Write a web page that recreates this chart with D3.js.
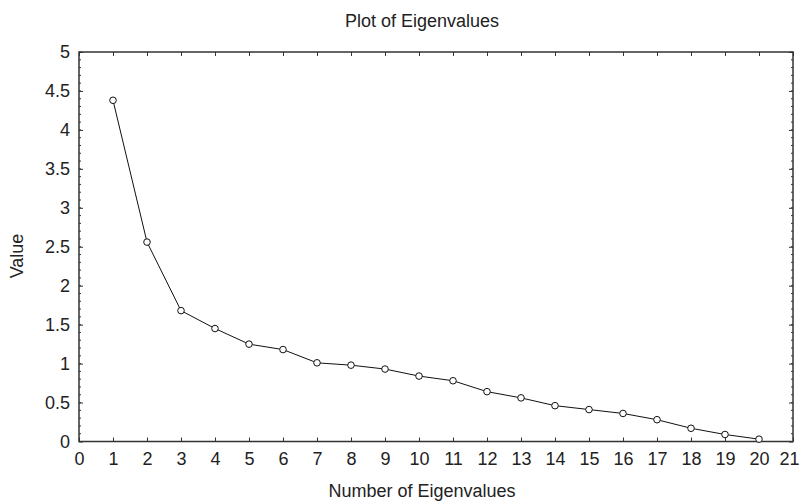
<!DOCTYPE html>
<html>
<head>
<meta charset="utf-8">
<script src="https://cdn.jsdelivr.net/npm/d3@7"></script>
<style>
  body { margin: 0; background: #fff; }
  text { font-family: "Liberation Sans", Arial, sans-serif; fill: #222; }
  .tick text { font-family: "Liberation Sans Narrow", "Liberation Sans", Arial, sans-serif; }
</style>
</head>
<body>
<div id="chart"></div>
<script>
// eigenvalues
var eigenNumber = [1, 2, 3, 4, 5, 6, 7, 8, 9, 10, 11, 12, 13, 14, 15, 16, 17, 18, 19, 20];
var eigenValue = [4.38, 2.56, 1.68, 1.45, 1.25, 1.18, 1.01, 0.98, 0.93, 0.84, 0.78, 0.64, 0.56, 0.46, 0.41, 0.36, 0.28, 0.17, 0.09, 0.03];
var xTicks = d3.range(0, 22);
var yTicks = [0, 0.5, 1, 1.5, 2, 2.5, 3, 3.5, 4, 4.5, 5];
var yMinor = d3.range(0, 51).map(d => d / 10);

var width = 801, height = 501;
var margin = { top: 52, right: 8, bottom: 60, left: 79 };

var svg = d3.select("#chart")
    .append("svg")
    .attr("width", width)
    .attr("height", height);

var x = d3.scaleLinear().domain([0, 21]).range([margin.left, width - margin.right]);
var y = d3.scaleLinear().domain([0, 5]).range([height - margin.bottom + 0.5, margin.top]);

var axisColor = "#333";

// minor ticks left and right
svg.selectAll(".minor-l")
    .data(yMinor)
    .join("line")
    .attr("x1", x(0)).attr("x2", x(0) + 2)
    .attr("y1", d => y(d)).attr("y2", d => y(d))
    .attr("stroke", axisColor);
svg.selectAll(".minor-r")
    .data(yMinor)
    .join("line")
    .attr("x1", x(21)).attr("x2", x(21) - 2)
    .attr("y1", d => y(d)).attr("y2", d => y(d))
    .attr("stroke", axisColor);

// y axis with tick labels
svg.append("g")
    .attr("transform", "translate(" + x(0) + ",0)")
    .call(d3.axisLeft(y).tickValues(yTicks).tickSize(-4).tickPadding(9).tickFormat(d3.format("~g")))
    .call(g => g.select(".domain").remove())
    .call(g => g.selectAll("line").attr("stroke", axisColor))
    .call(g => g.selectAll("text").attr("font-size", 18).attr("font-family", null));

svg.append("g")
    .attr("transform", "translate(" + x(21) + ",0)")
    .call(d3.axisRight(y).tickValues(yTicks).tickSize(-4).tickFormat(""))
    .call(g => g.select(".domain").remove())
    .call(g => g.selectAll("line").attr("stroke", axisColor));

// x axis bottom and top
svg.append("g")
    .attr("transform", "translate(0," + y(0) + ")")
    .call(d3.axisBottom(x).tickValues(xTicks).tickSize(-4).tickPadding(11).tickFormat(d3.format("d")))
    .call(g => g.select(".domain").remove())
    .call(g => g.selectAll("line").attr("stroke", axisColor))
    .call(g => g.selectAll("text").attr("font-size", 18).attr("font-family", null)
        .filter(d => d === 21).attr("dx", -4));

svg.append("g")
    .attr("transform", "translate(0," + y(5) + ")")
    .call(d3.axisTop(x).tickValues(xTicks).tickSize(-4).tickFormat(""))
    .call(g => g.select(".domain").remove())
    .call(g => g.selectAll("line").attr("stroke", axisColor));

// frame
svg.append("rect")
    .attr("x", x(0))
    .attr("y", y(5))
    .attr("width", x(21) - x(0))
    .attr("height", y(0) - y(5))
    .attr("fill", "none")
    .attr("stroke", axisColor)
    .attr("stroke-width", 1.5);

// line
var line = d3.line()
    .x((d, i) => x(eigenNumber[i]))
    .y(d => y(d));

svg.append("path")
    .datum(eigenValue)
    .attr("d", line)
    .attr("fill", "none")
    .attr("stroke", "#111")
    .attr("stroke-width", 1);

svg.selectAll(".pt")
    .data(eigenValue)
    .join("circle")
    .attr("class", "pt")
    .attr("cx", (d, i) => x(eigenNumber[i]))
    .attr("cy", d => y(d))
    .attr("r", 3.3)
    .attr("fill", "#fff")
    .attr("stroke", "#111")
    .attr("stroke-width", 1);

// titles
svg.append("text")
    .attr("x", 422)
    .attr("y", 27)
    .attr("text-anchor", "middle")
    .attr("font-size", 18)
    .text("Plot of Eigenvalues");

svg.append("text")
    .attr("x", 422)
    .attr("y", 497)
    .attr("text-anchor", "middle")
    .attr("font-size", 18)
    .text("Number of Eigenvalues");

svg.append("text")
    .attr("transform", "translate(23,256) rotate(-90)")
    .attr("text-anchor", "middle")
    .attr("font-size", 18)
    .text("Value");
</script>
</body>
</html>
